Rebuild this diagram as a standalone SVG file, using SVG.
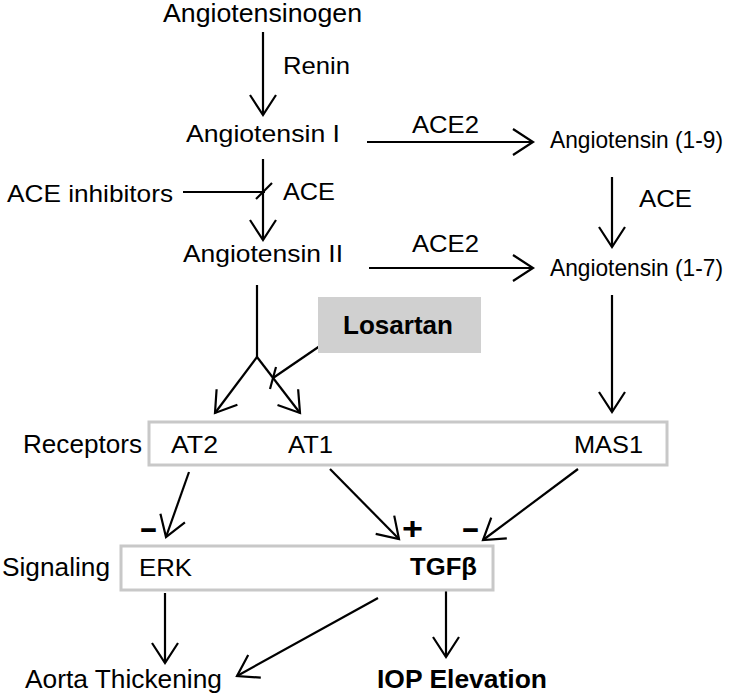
<svg xmlns="http://www.w3.org/2000/svg" width="756" height="698" viewBox="0 0 756 698">
<style>
text{font-family:"Liberation Sans",Arial,sans-serif;font-size:24px;fill:#000}
.l{font-size:25px}
.b{font-weight:bold}
.sg{font-weight:bold;font-size:32px}
.c{stroke:#000;stroke-width:2.2;fill:none}
.a{marker-end:url(#ah)}
.box{fill:#fff;stroke:#c8c8c8;stroke-width:3}
</style>
<defs>
<marker id="ah" viewBox="-24 -16 28 32" refX="0" refY="0" markerWidth="28" markerHeight="32" markerUnits="userSpaceOnUse" orient="auto" overflow="visible">
<path d="M-20,-13 L0,0 L-20,13" fill="none" stroke="#000" stroke-width="2.2"/>
</marker>
</defs>
<rect width="756" height="698" fill="#fff"/>
<g id="connectors">
<line class="c a" x1="263" y1="32" x2="263" y2="115"/>
<line class="c a" x1="263" y1="159" x2="263" y2="240"/>
<line class="c" x1="183" y1="192" x2="265" y2="192"/>
<line class="c" x1="256" y1="199" x2="272" y2="183"/>
<line class="c a" x1="367" y1="142" x2="533" y2="142"/>
<line class="c a" x1="612" y1="177" x2="612" y2="247"/>
<line class="c a" x1="369" y1="268" x2="533" y2="268"/>
<polyline class="c" points="257,285 257,357"/>
<line class="c a" x1="257" y1="357" x2="215" y2="413"/>
<line class="c a" x1="257" y1="357" x2="300" y2="413"/>
<line class="c" x1="333" y1="337" x2="273" y2="378"/>
<line class="c" x1="276" y1="367" x2="270" y2="389"/>
<line class="c a" x1="612" y1="295" x2="612" y2="412"/>
<line class="c a" x1="189" y1="472" x2="166" y2="537"/>
<line class="c a" x1="330" y1="469" x2="399" y2="539"/>
<line class="c a" x1="578" y1="469" x2="483" y2="540"/>
<line class="c a" x1="165" y1="593" x2="165" y2="663"/>
<line class="c a" x1="378" y1="598" x2="237" y2="676"/>
<line class="c a" x1="446" y1="588" x2="446" y2="657"/>
</g>
<g id="angiotensinogen"><text class="l" x="163" y="22" textLength="199" lengthAdjust="spacingAndGlyphs">Angiotensinogen</text></g>
<g id="renin"><text x="283" y="74" textLength="67" lengthAdjust="spacingAndGlyphs">Renin</text></g>
<g id="angiotensin1"><text x="186" y="142" textLength="154" lengthAdjust="spacingAndGlyphs">Angiotensin I</text></g>
<g id="ace2-top"><text x="412" y="133" textLength="67" lengthAdjust="spacingAndGlyphs">ACE2</text></g>
<g id="angiotensin19"><text x="550" y="148" textLength="173" lengthAdjust="spacingAndGlyphs">Angiotensin (1-9)</text></g>
<g id="ace-inhibitors"><text x="7" y="202" textLength="166" lengthAdjust="spacingAndGlyphs">ACE inhibitors</text></g>
<g id="ace-left"><text x="283" y="200" textLength="52" lengthAdjust="spacingAndGlyphs">ACE</text></g>
<g id="ace-right"><text x="639" y="207" textLength="53" lengthAdjust="spacingAndGlyphs">ACE</text></g>
<g id="angiotensin2"><text x="183" y="262" textLength="160" lengthAdjust="spacingAndGlyphs">Angiotensin II</text></g>
<g id="ace2-bottom"><text x="412" y="252" textLength="67" lengthAdjust="spacingAndGlyphs">ACE2</text></g>
<g id="angiotensin17"><text x="550" y="276" textLength="173" lengthAdjust="spacingAndGlyphs">Angiotensin (1-7)</text></g>
<g id="losartan">
<rect x="318" y="297" width="163" height="56" fill="#d0d0d0"/>
<text class="b" x="343" y="334" textLength="110" lengthAdjust="spacingAndGlyphs" style="font-size:26px">Losartan</text>
</g>
<g id="receptors">
<text class="l" x="23" y="453" textLength="119" lengthAdjust="spacingAndGlyphs">Receptors</text>
<rect class="box" x="149" y="422" width="518" height="43"/>
<text x="171" y="453" textLength="47" lengthAdjust="spacingAndGlyphs">AT2</text>
<text x="288" y="453" textLength="45" lengthAdjust="spacingAndGlyphs">AT1</text>
<text x="574" y="453" textLength="69" lengthAdjust="spacingAndGlyphs">MAS1</text>
</g>
<g id="signs">
<text class="sg" x="139" y="538" textLength="19" lengthAdjust="spacingAndGlyphs">-</text>
<text class="sg" x="402" y="539" textLength="21" lengthAdjust="spacingAndGlyphs">+</text>
<text class="sg" x="461" y="538" textLength="19" lengthAdjust="spacingAndGlyphs">-</text>
</g>
<g id="signaling">
<text class="l" x="2" y="576" textLength="108" lengthAdjust="spacingAndGlyphs">Signaling</text>
<rect class="box" x="121" y="546" width="372" height="44"/>
<text x="139" y="576" textLength="53" lengthAdjust="spacingAndGlyphs">ERK</text>
<text class="b" x="410" y="575" textLength="67" lengthAdjust="spacingAndGlyphs">TGFβ</text>
</g>
<g id="aorta"><text class="l" x="25" y="688" textLength="197" lengthAdjust="spacingAndGlyphs">Aorta Thickening</text></g>
<g id="iop"><text class="b l" x="377" y="688" textLength="170" lengthAdjust="spacingAndGlyphs">IOP Elevation</text></g>
</svg>
